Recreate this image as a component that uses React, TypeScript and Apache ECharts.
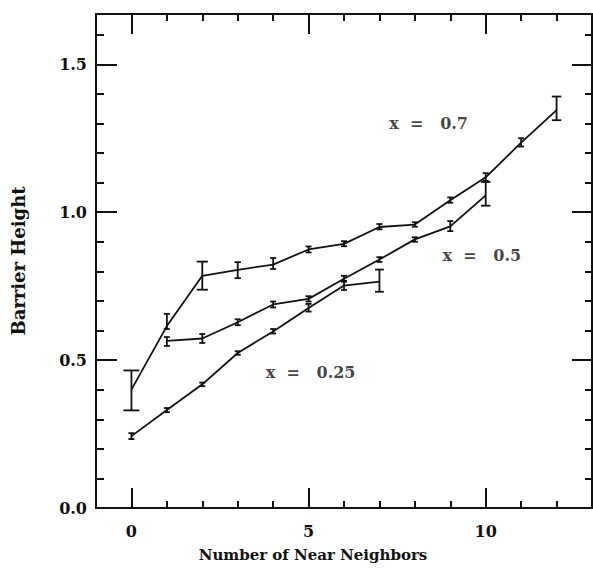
import React, { useEffect, useRef } from "react";
import * as echarts from "echarts";

// Number of near neighbors for each series
const xs07 = [0, 1, 2, 3, 4, 5, 6, 7, 8, 9, 10, 11, 12];
const val07 = [0.40, 0.615, 0.785, 0.805, 0.823, 0.874, 0.893, 0.950, 0.958, 1.040, 1.118, 1.235, 1.345];
const lo07 = [0.33, 0.605, 0.738, 0.777, 0.808, 0.864, 0.885, 0.942, 0.951, 1.032, 1.106, 1.222, 1.311];
const hi07 = [0.465, 0.656, 0.833, 0.831, 0.845, 0.884, 0.902, 0.960, 0.966, 1.050, 1.132, 1.250, 1.391];

const xs05 = [1, 2, 3, 4, 5, 6, 7, 8, 9, 10];
const val05 = [0.565, 0.573, 0.628, 0.688, 0.707, 0.775, 0.840, 0.908, 0.952, 1.057];
const lo05 = [0.548, 0.558, 0.618, 0.678, 0.698, 0.765, 0.832, 0.900, 0.936, 1.022];
const hi05 = [0.578, 0.588, 0.638, 0.698, 0.716, 0.785, 0.848, 0.915, 0.970, 1.102];

const xs025 = [0, 1, 2, 3, 4, 5, 6, 7];
const val025 = [0.243, 0.331, 0.418, 0.524, 0.597, 0.676, 0.752, 0.765];
const lo025 = [0.233, 0.324, 0.412, 0.518, 0.590, 0.664, 0.737, 0.731];
const hi025 = [0.253, 0.338, 0.424, 0.530, 0.605, 0.690, 0.768, 0.806];

// Tick values and labels
const xMajor = [0, 5, 10];
const xMinor = [1, 2, 3, 4, 6, 7, 8, 9, 11, 12];
const yMajor = [0, 0.5, 1.0, 1.5];
const yMinor = [0.1, 0.2, 0.3, 0.4, 0.6, 0.7, 0.8, 0.9, 1.1, 1.2, 1.3, 1.4, 1.6];

// Series annotations
const annoNames = ["0.7", "0.5", "0.25"];
const annoX = [7.28, 8.78, 3.79];
const annoY = [1.30, 0.853, 0.459];

const FONT = "DejaVu Serif";
const INK = "#111";

function pairs(xs: number[], ys: number[]) {
  return xs.map((x, i) => [x, ys[i]]);
}
function triples(xs: number[], lo: number[], hi: number[]) {
  return xs.map((x, i) => [x, lo[i], hi[i]]);
}

export default function App() {
  const ref = useRef<HTMLDivElement>(null);
  useEffect(() => {
    if (!ref.current) return;
    const chart = echarts.init(ref.current, null, { renderer: "svg" });

    const lineStyle = { color: INK, width: 2 };
    const baseX = {
      type: "value",
      min: -1,
      max: 13,
      splitLine: { show: false },
    };
    const baseY = {
      type: "value",
      min: 0,
      max: 1.67,
      splitLine: { show: false },
    };
    const mainLine = { show: true, onZero: false, lineStyle };
    const noLine = { show: false, onZero: false };

    const errRender = (params: any, api: any) => {
      const x = api.value(0);
      const lo = api.value(1);
      const hi = api.value(2);
      const pHi = api.coord([x, hi]);
      const pLo = api.coord([x, lo]);
      const len = Math.abs(pLo[1] - pHi[1]);
      const hw = Math.max(3, Math.min(8.5, len * 0.2));
      const st = { stroke: INK, lineWidth: 1.8 };
      return {
        type: "group",
        children: [
          { type: "line", shape: { x1: pHi[0], y1: pHi[1], x2: pLo[0], y2: pLo[1] }, style: st },
          { type: "line", shape: { x1: pHi[0] - hw, y1: pHi[1], x2: pHi[0] + hw, y2: pHi[1] }, style: st },
          { type: "line", shape: { x1: pLo[0] - hw, y1: pLo[1], x2: pLo[0] + hw, y2: pLo[1] }, style: st },
        ],
      };
    };

    const lineSeries = (xs: number[], ys: number[]) => ({
      type: "line",
      data: pairs(xs, ys),
      symbol: "none",
      lineStyle: { color: INK, width: 1.8 },
      silent: true,
      z: 3,
    });
    const errSeries = (xs: number[], lo: number[], hi: number[]) => ({
      type: "custom",
      data: triples(xs, lo, hi),
      renderItem: errRender,
      silent: true,
      z: 4,
    });

    chart.setOption({
      animation: false,
      grid: { left: 96, right: 1, top: 14, bottom: 61, containLabel: false },
      xAxis: [
        {
          ...baseX,
          position: "bottom",
          axisLine: mainLine,
          axisTick: { show: true, inside: true, length: 20, customValues: xMajor, lineStyle },
          axisLabel: {
            show: true,
            customValues: xMajor,
            margin: 15,
            fontFamily: FONT,
            fontSize: 16,
            fontWeight: "bold",
            color: INK,
          },
        },
        {
          ...baseX,
          position: "bottom",
          axisLine: noLine,
          axisTick: { show: true, inside: true, length: 7, customValues: xMinor, lineStyle },
          axisLabel: { show: false },
        },
        {
          ...baseX,
          position: "top",
          axisLine: mainLine,
          axisTick: { show: true, inside: true, length: 20, customValues: xMajor, lineStyle },
          axisLabel: { show: false },
        },
        {
          ...baseX,
          position: "top",
          axisLine: noLine,
          axisTick: { show: true, inside: true, length: 7, customValues: xMinor, lineStyle },
          axisLabel: { show: false },
        },
      ],
      yAxis: [
        {
          ...baseY,
          position: "left",
          axisLine: mainLine,
          axisTick: { show: true, inside: true, length: 21, customValues: yMajor, lineStyle },
          axisLabel: {
            show: true,
            customValues: yMajor,
            margin: 9,
            fontFamily: FONT,
            fontSize: 16,
            fontWeight: "bold",
            color: INK,
            formatter: (v: number) => v.toFixed(1),
          },
        },
        {
          ...baseY,
          position: "left",
          axisLine: noLine,
          axisTick: { show: true, inside: true, length: 8, customValues: yMinor, lineStyle },
          axisLabel: { show: false },
        },
        {
          ...baseY,
          position: "right",
          axisLine: mainLine,
          axisTick: { show: true, inside: true, length: 20, customValues: yMajor, lineStyle },
          axisLabel: { show: false },
        },
        {
          ...baseY,
          position: "right",
          axisLine: noLine,
          axisTick: { show: true, inside: true, length: 7, customValues: yMinor, lineStyle },
          axisLabel: { show: false },
        },
      ],
      series: [
        lineSeries(xs07, val07),
        errSeries(xs07, lo07, hi07),
        lineSeries(xs05, val05),
        errSeries(xs05, lo05, hi05),
        lineSeries(xs025, val025),
        errSeries(xs025, lo025, hi025),
        {
          type: "scatter",
          symbolSize: 0,
          silent: true,
          data: annoNames.map((n, i) => ({ value: [annoX[i], annoY[i]], name: n })),
          label: {
            show: true,
            position: "right",
            distance: 0,
            formatter: (p: any) => "x  =   " + p.name,
            fontFamily: FONT,
            fontSize: 16,
            fontWeight: "bold",
            color: INK,
          },
        },
      ],
      graphic: [
        {
          type: "text",
          x: 313,
          y: 555,
          style: {
            text: "Number of Near Neighbors",
            fontFamily: FONT,
            fontSize: 15,
            fontWeight: "bold",
            fill: INK,
            textAlign: "center",
            textVerticalAlign: "middle",
          },
        },
        {
          type: "text",
          x: 18,
          y: 261,
          rotation: Math.PI / 2,
          style: {
            text: "Barrier Height",
            fontFamily: FONT,
            fontSize: 18,
            fontWeight: "bold",
            fill: INK,
            textAlign: "center",
            textVerticalAlign: "middle",
          },
        },
      ],
    });
    return () => chart.dispose();
  }, []);
  return (
    <div
      ref={ref}
      style={{ position: "fixed", left: 0, top: 0, width: 593, height: 569, background: "#fff" }}
    />
  );
}
